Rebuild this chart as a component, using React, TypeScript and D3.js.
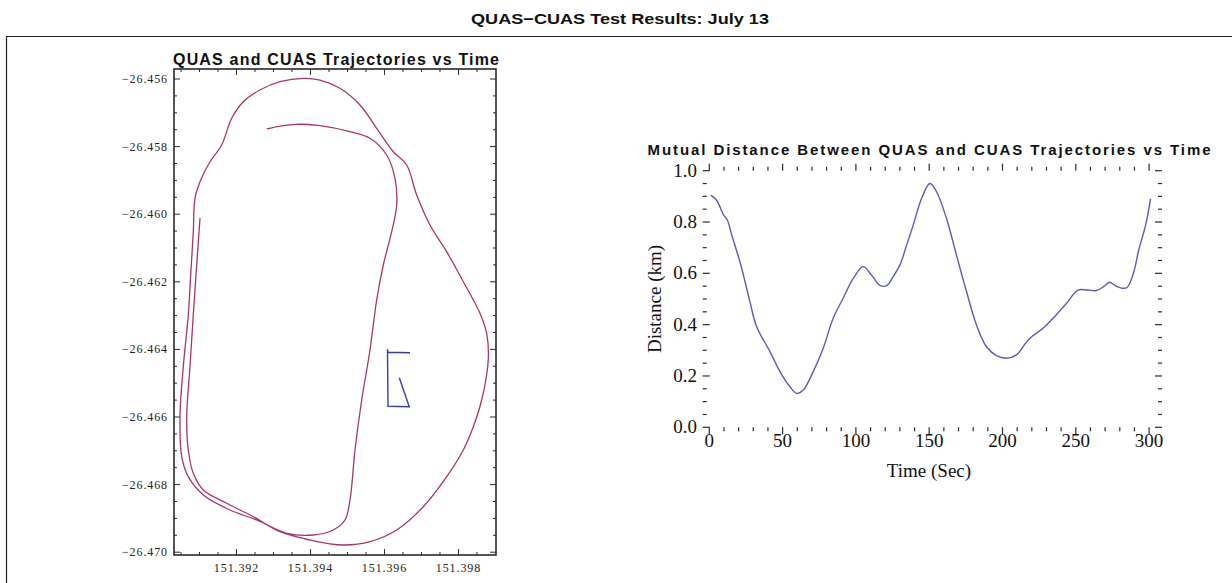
import React from 'react';
import * as d3 from 'd3';

// distance between the two aircraft (km) vs time (s)
const distTime = [1, 5, 9.5, 12.3, 15.3, 20.9, 23.2, 27.7, 32.3, 41.4, 48.2, 55, 59.6, 64.1, 70.9, 77.7, 84.5, 91.3, 98.2, 105, 110.7, 116.4, 121, 125.4, 130, 134.6, 139.1, 144.8, 150.5, 155, 161.8, 168.6, 175.5, 182.3, 189.1, 195.9, 202.7, 209.5, 216.4, 219.8, 227.7, 234.5, 243.6, 251.5, 258, 264, 269, 273, 277, 282, 285, 289.3, 292.9, 297.7, 301];
const distKm = [0.905, 0.885, 0.83, 0.808, 0.75, 0.645, 0.595, 0.49, 0.392, 0.295, 0.217, 0.158, 0.132, 0.145, 0.217, 0.308, 0.425, 0.503, 0.58, 0.626, 0.593, 0.553, 0.552, 0.587, 0.632, 0.71, 0.788, 0.892, 0.95, 0.918, 0.814, 0.671, 0.528, 0.398, 0.314, 0.279, 0.269, 0.282, 0.333, 0.353, 0.386, 0.425, 0.483, 0.535, 0.535, 0.533, 0.548, 0.565, 0.552, 0.542, 0.545, 0.6, 0.69, 0.79, 0.89];

// QUAS track
const quasLon = [151.391014, 151.390924, 151.390832, 151.390743, 151.390654, 151.390697, 151.390832, 151.391103, 151.391735, 151.392454, 151.393176, 151.393986, 151.394886, 151.395608, 151.39633, 151.397049, 151.397681, 151.39813, 151.3984, 151.398627, 151.398805, 151.398762, 151.398581, 151.39813, 151.397681, 151.39723, 151.39687, 151.3966, 151.396238, 151.395789, 151.395338, 151.394797, 151.394257, 151.393805, 151.393176, 151.392635, 151.392184, 151.39187, 151.3916, 151.391284, 151.391014, 151.390878, 151.390832, 151.390762, 151.390697, 151.390562, 151.390473, 151.390519, 151.390697, 151.391103, 151.391824, 151.392546, 151.393357, 151.394076, 151.394616, 151.394932, 151.395068, 151.395203, 151.395384, 151.395608, 151.395789, 151.395968, 151.396195, 151.39633, 151.396284, 151.396059, 151.395608, 151.395068, 151.394257, 151.393627, 151.393176, 151.392816];
const quasLat = [-26.460121, -26.461503, -26.462982, -26.464512, -26.465991, -26.466976, -26.467666, -26.46816, -26.468553, -26.46895, -26.469393, -26.469639, -26.469787, -26.469689, -26.469343, -26.468654, -26.467766, -26.466976, -26.466287, -26.465497, -26.464314, -26.463524, -26.462932, -26.461997, -26.461109, -26.46032, -26.459432, -26.458544, -26.458151, -26.457459, -26.456769, -26.456275, -26.45603, -26.455979, -26.45608, -26.456325, -26.456672, -26.457163, -26.457953, -26.458447, -26.459038, -26.45953, -26.460518, -26.461799, -26.462982, -26.464512, -26.465991, -26.467175, -26.467766, -26.468308, -26.468751, -26.469047, -26.469441, -26.469491, -26.469343, -26.469047, -26.468456, -26.466976, -26.465497, -26.464018, -26.462538, -26.461503, -26.460518, -26.459728, -26.458938, -26.458249, -26.457754, -26.457559, -26.457382, -26.45734, -26.457391, -26.457479];

// CUAS track
const cuasLon = [151.396689, 151.396095, 151.396081, 151.396095, 151.39667, 151.3964];
const cuasLat = [-26.464098, -26.464086, -26.463997, -26.465683, -26.465695, -26.464837];

const lonTicks = [151.392, 151.394, 151.396, 151.398];
const latTicks = [-26.456, -26.458, -26.46, -26.462, -26.464, -26.466, -26.468, -26.47];
const timeTicks = [0, 50, 100, 150, 200, 250, 300];
const kmTicks = [0, 0.2, 0.4, 0.6, 0.8, 1.0];

const W = 1232;
const H = 583;

function App() {
  // left panel
  const xL = d3.scaleLinear().domain([151.390311, 151.399014]).range([174, 496]);
  const yL = d3.scaleLinear().domain([-26.455704, -26.470083]).range([69, 555]);

  // right panel
  const xR = d3.scaleLinear().domain([-4.5, 308.8]).range([702.7, 1162]);
  const yR = d3.scaleLinear().domain([0, 1]).range([427.3, 170.7]);

  const traj = d3.line<number>()
    .x(i => xL(quasLon[i]))
    .y(i => yL(quasLat[i]))
    .curve(d3.curveCatmullRom.alpha(0.5));
  const cuas = d3.line<number>()
    .x(i => xL(cuasLon[i]))
    .y(i => yL(cuasLat[i]));
  const dist = d3.line<number>()
    .x(i => xR(distTime[i]))
    .y(i => yR(distKm[i]))
    .curve(d3.curveCatmullRom.alpha(0.5));

  const fmtLat = (v: number) => d3.format('.3f')(v).replace('-', '\u2212');
  const fmtKm = d3.format('.1f');

  const [l0, l1] = xL.range();
  const [t0, t1] = yL.range();
  const [r0, r1] = xR.range();
  const [u1, u0] = yR.range();

  const lonMinor = d3.range(151.3905, 151.399, 0.0005);
  const latMinor = d3.range(-26.4560, -26.4701, -0.0005);
  const timeMinor = d3.range(0, 309, 10);
  const kmMinor = d3.range(0, 1.001, 0.05);

  const frame = '#2a2a2a';

  return (
    <svg width={W} height={H} style={{position: 'absolute', left: 0, top: 0, background: '#fff'}}
      fontFamily="'Liberation Sans', Arial, sans-serif">
      <text x={620} y={24} textAnchor="middle" fontSize={15} fontWeight="bold" fill="#111"
        textLength={298} lengthAdjust="spacingAndGlyphs">
        QUAS{'\u2212'}CUAS Test Results: July 13
      </text>
      <path d={`M6.5,${H}V36.5H${W}`} fill="none" stroke="#222" strokeWidth={1.2} />

      {/* left panel: trajectories */}
      <text x={336} y={65} textAnchor="middle" fontSize={16} fontWeight="bold" fill="#111"
        textLength={326} lengthAdjust="spacing">QUAS and CUAS Trajectories vs Time</text>
      <g stroke={frame} strokeWidth={1}>
        {lonMinor.map((v, i) => {
          const major = lonTicks.some(t => Math.abs(t - v) < 1e-7);
          const L = major ? 6 : 3;
          return (
            <g key={'lx' + i}>
              <line x1={xL(v)} x2={xL(v)} y1={t1} y2={t1 - L} />
              <line x1={xL(v)} x2={xL(v)} y1={t0} y2={t0 + L} />
            </g>
          );
        })}
        {latMinor.map((v, i) => {
          const major = latTicks.some(t => Math.abs(t - v) < 1e-7);
          const L = major ? 6 : 3;
          return (
            <g key={'ly' + i}>
              <line x1={l0} x2={l0 + L} y1={yL(v)} y2={yL(v)} />
              <line x1={l1} x2={l1 - L} y1={yL(v)} y2={yL(v)} />
            </g>
          );
        })}
      </g>
      <path d={traj(d3.range(quasLon.length)) || ''} fill="none" stroke="#a2376f" strokeWidth={1.3} />
      <path d={cuas(d3.range(cuasLon.length)) || ''} fill="none" stroke="#3b3ba6" strokeWidth={1.4} />
      <rect x={l0} y={t0} width={l1 - l0} height={t1 - t0} fill="none" stroke={frame} strokeWidth={1.6} />
      <g fontFamily="'Liberation Serif', 'Times New Roman', serif" fontSize={12} fill="#222" letterSpacing={0.9}>
        {latTicks.map(v => (
          <text key={'lt' + v} x={168} y={yL(v) + 4} textAnchor="end">{fmtLat(v)}</text>
        ))}
        {lonTicks.map(v => (
          <text key={'ln' + v} x={xL(v)} y={572} textAnchor="middle">{d3.format('.3f')(v)}</text>
        ))}
      </g>

      {/* right panel: mutual distance */}
      <text x={929} y={155} textAnchor="middle" fontSize={15} fontWeight="bold" fill="#111"
        textLength={563} lengthAdjust="spacing">Mutual Distance Between QUAS and CUAS Trajectories vs Time</text>
      <g stroke={frame} strokeWidth={1.2}>
        {timeMinor.map(v => {
          const L = v % 50 === 0 ? 7 : 4;
          return (
            <g key={'tx' + v}>
              <line x1={xR(v)} x2={xR(v)} y1={u0} y2={u0 - L} />
              <line x1={xR(v)} x2={xR(v)} y1={u1} y2={u1 + L} />
            </g>
          );
        })}
        {kmMinor.map((v, i) => {
          const L = i % 4 === 0 ? 7 : 4;
          return (
            <g key={'ky' + i}>
              <line x1={r0} x2={r0 + L} y1={yR(v)} y2={yR(v)} />
              <line x1={r1} x2={r1 - L} y1={yR(v)} y2={yR(v)} />
            </g>
          );
        })}
      </g>
      <path d={dist(d3.range(distTime.length)) || ''} fill="none" stroke="#5b5bb3" strokeWidth={1.4} />
      <rect x={r0} y={u1} width={r1 - r0} height={u0 - u1} fill="none" stroke={frame} strokeWidth={2} />
      <g fontFamily="'Liberation Serif', 'Times New Roman', serif" fontSize={19} fill="#111">
        {kmTicks.map(v => (
          <text key={'kt' + v} x={697} y={yR(v) + 6} textAnchor="end">{fmtKm(v)}</text>
        ))}
        {timeTicks.map(v => (
          <text key={'tt' + v} x={xR(v)} y={447} textAnchor="middle">{v}</text>
        ))}
        <text x={929} y={477} textAnchor="middle">Time (Sec)</text>
        <text transform="translate(661,299) rotate(-90)" textAnchor="middle">Distance (km)</text>
      </g>
    </svg>
  );
}

export default App;
